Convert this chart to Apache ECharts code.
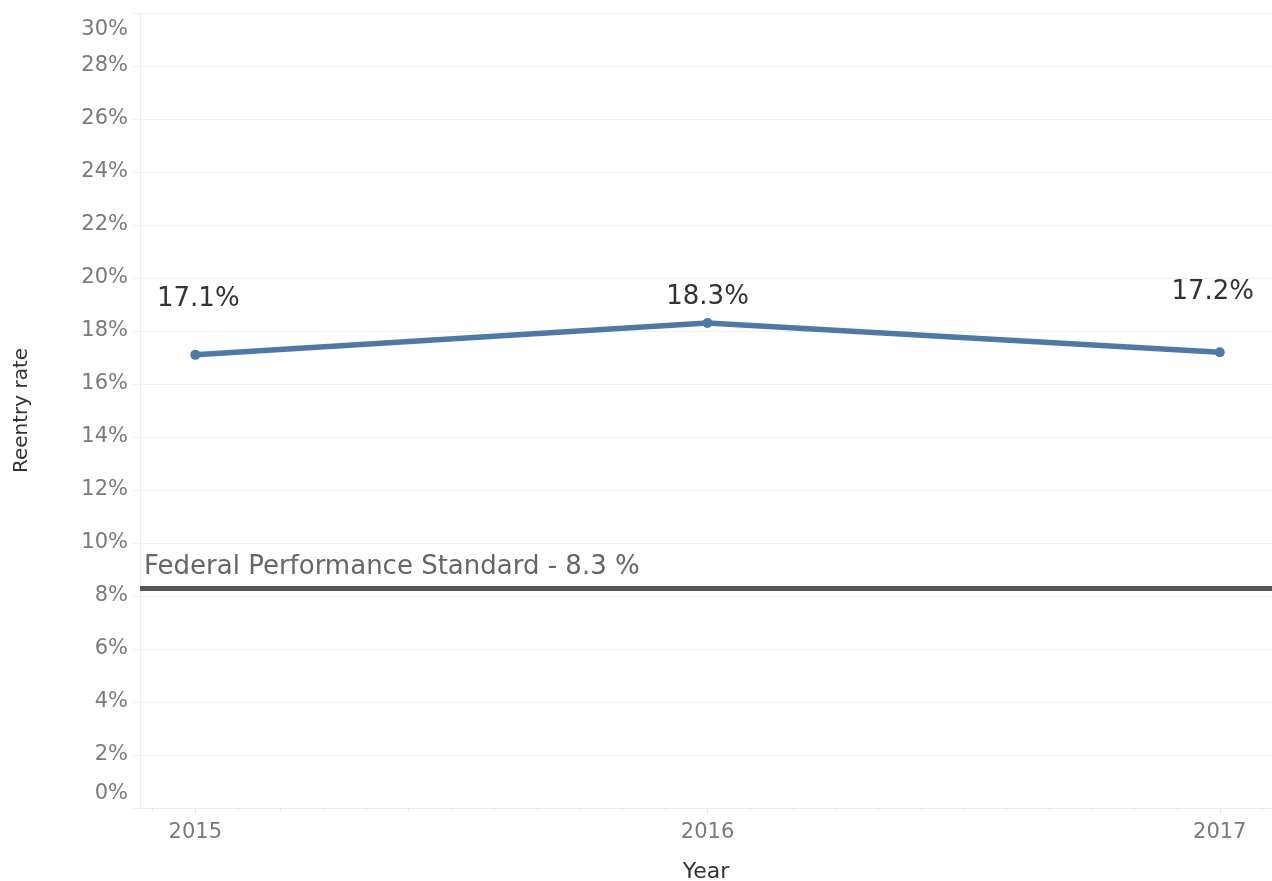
<!DOCTYPE html>
<html lang="en">
<head>
<meta charset="UTF-8">
<title>Reentry rate</title>
<script src="https://cdn.jsdelivr.net/npm/echarts@6/dist/echarts.min.js"></script>
<style>
    html, body {margin: 0; padding: 0; background: #fff;}
    #main {width: 1272px; height: 881px;}
</style>
</head>
<body>
<div id="main"></div>
<script>
    // data
    var years = [2015, 2016, 2017];
    var rates = [17.1, 18.3, 17.2];
    var yearTicks = [2015, 2016, 2017];
    var standardValue = 8.3;
    var standardLabel = 'Federal Performance Standard - 8.3 %';

    // label nudges (Tableau places them by hand-ish)
    var labelOffsets = [[3, -56], [0, -26], [-7, -60]];

    var xMin = 2014.892, xMax = 2017.102;
    var monthTicks = [];
    for (var m = -2; m <= 26; m++) {
        var v = 2015 + m / 12;
        if (v > xMin && v < xMax && m % 12 != 0) monthTicks.push(v);
    }

    var font = '"DejaVu Sans", "Open Sans", sans-serif';
    var points = [];
    for (var i = 0; i < years.length; i++) {
        points.push({
            value: [years[i], rates[i]],
            label: {offset: labelOffsets[i]}
        });
    }

    var myChart = echarts.init(document.getElementById('main'));
    var option = {
        animation: false,
        grid: {left: 140, right: 0, top: 13, bottom: 73, outerBoundsMode: 'none'},
        xAxis: [{
            type: 'value',
            min: xMin,
            max: xMax,
            name: 'Year',
            nameLocation: 'middle',
            nameGap: 53,
            nameTextStyle: {color: '#333', fontSize: 22, fontFamily: font},
            axisLine: {show: true, lineStyle: {color: '#ececec'}},
            axisTick: {show: true, length: 5, lineStyle: {color: '#e2e2e2'}, customValues: yearTicks},
            axisLabel: {
                customValues: yearTicks,
                color: '#7a7a7a', fontSize: 21, fontFamily: font, margin: 14,
                formatter: function (v) { return String(Math.round(v)); }
            },
            splitLine: {show: false}
        }, {
            type: 'value',
            min: xMin,
            max: xMax,
            position: 'bottom',
            axisLine: {show: false},
            axisTick: {show: true, length: 3, lineStyle: {color: '#e6e6e6'}, customValues: monthTicks},
            axisLabel: {show: false},
            splitLine: {show: false}
        }],
        yAxis: {
            type: 'value',
            min: 0,
            max: 30,
            interval: 2,
            name: 'Reentry rate',
            nameLocation: 'middle',
            nameGap: 108,
            nameTextStyle: {color: '#333', fontSize: 20, fontFamily: font},
            axisLine: {show: true, lineStyle: {color: '#ececec'}},
            axisTick: {show: true, length: 7, lineStyle: {color: '#f0f0f0'}},
            axisLabel: {
                color: '#7a7a7a', fontSize: 21, fontFamily: font, margin: 12,
                formatter: function (v) {
                    if (v == 30) return '{top|' + v + '%}';
                    if (v == 0) return '{bot|' + v + '%}';
                    return v + '%';
                },
                rich: {
                    top: {color: '#7a7a7a', fontSize: 21, fontFamily: font, padding: [34, 0, 0, 0]},
                    bot: {color: '#7a7a7a', fontSize: 21, fontFamily: font, padding: [0, 0, 28, 0]}
                }
            },
            splitLine: {show: true, lineStyle: {color: '#f0f0f0', width: 1}}
        },
        series: [{
            name: 'Reentry rate',
            type: 'line',
            data: points,
            symbol: 'circle',
            symbolSize: 10,
            lineStyle: {color: '#4e79a7', width: 5.5},
            itemStyle: {color: '#4e79a7'},
            label: {
                show: true,
                position: 'inside',
                color: '#333',
                fontSize: 26,
                fontFamily: font,
                formatter: function (p) { return p.value[1].toFixed(1) + '%'; }
            },
            markLine: {
                silent: true,
                symbol: 'none',
                lineStyle: {color: '#555', width: 5, type: 'solid'},
                label: {
                    position: 'insideStartTop',
                    formatter: standardLabel,
                    color: '#666',
                    fontSize: 26,
                    fontFamily: font,
                    distance: [4, 8]
                },
                data: [{yAxis: standardValue}]
            }
        }]
    };
    myChart.setOption(option);
</script>
</body>
</html>
